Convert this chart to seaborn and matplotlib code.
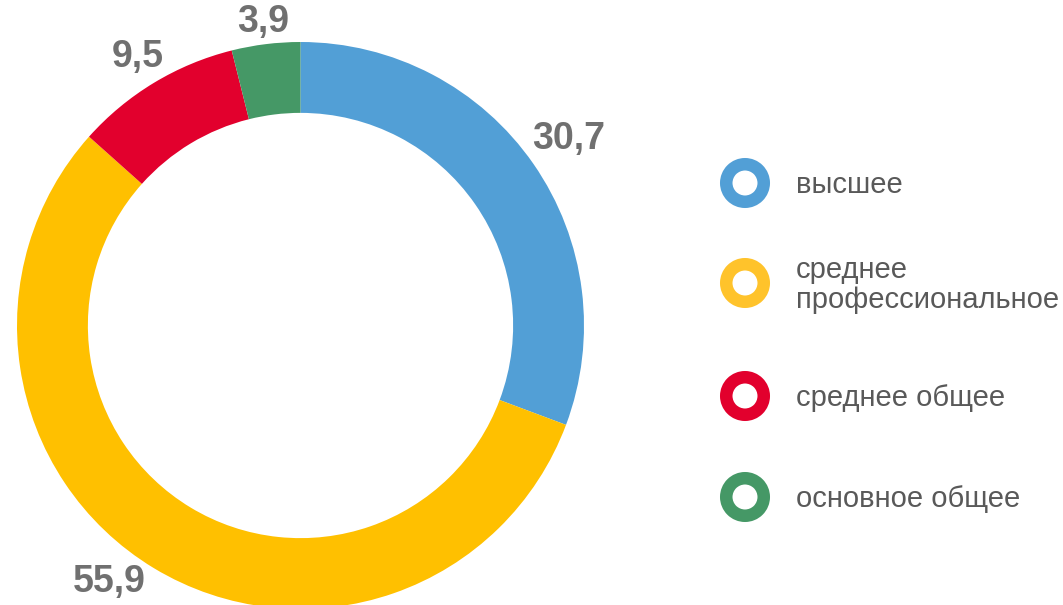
import numpy as np
import matplotlib.pyplot as plt
import seaborn as sns

# data
categories = ['высшее', 'среднее\nпрофессиональное', 'среднее общее', 'основное общее']
values = [30.7, 55.9, 9.5, 3.9]
value_labels = ['30,7', '55,9', '9,5', '3,9']
colors = ['#529FD6', '#FFC000', '#E2002D', '#459866']
legend_colors = ['#529FD6', '#FFC32B', '#E2002D', '#459866']

sns.set_theme(style='white')
plt.rcParams['font.family'] = ['Liberation Sans', 'DejaVu Sans']

W, H = 1063, 605
fig = plt.figure(figsize=(W / 100, H / 100), dpi=100)

# donut: centre and radius in pixels (from top-left)
cx, cy, R = 300.5, 325.5, 283.5
lim = 1.25
side = 2 * lim * R
ax = fig.add_axes([(cx - side / 2) / W, (H - cy - side / 2) / H, side / W, side / H])
wedges, _ = ax.pie(values, colors=colors, startangle=90, counterclock=False,
                   wedgeprops=dict(width=0.25, edgecolor='none', linewidth=0))
ax.set_xlim(-lim, lim)
ax.set_ylim(-lim, lim)
ax.set_aspect('equal')

# value labels outside the ring
texts = []
for w, lab in zip(wedges, value_labels):
    ang = np.deg2rad((w.theta1 + w.theta2) / 2)
    t = ax.text(np.cos(ang), np.sin(ang), lab, ha='center', va='center',
                fontsize=27, fontweight='bold', color='#707070')
    texts.append((t, ang))

fig.canvas.draw()
rend = fig.canvas.get_renderer()
for t, ang in texts:
    bb = t.get_window_extent(rend)
    hw = bb.width / 2 / R
    hh = 27 * 100 / 72 * 0.72 / 2 / R  # half of digit height
    rad = 1.02 + hw * abs(np.cos(ang)) + hh * abs(np.sin(ang))
    x, y = rad * np.cos(ang), rad * np.sin(ang)
    ymin = -(H - cy - 10) / R + hh  # keep label inside the figure
    if y < ymin:
        y = ymin
        x = np.sign(x) * np.sqrt(max(rad ** 2 - y ** 2, 0))
    t.set_position((x, y))

# legend with ring markers
legend_x, text_x = 745, 796
legend_y = [183, 283, 396, 497]
lax = fig.add_axes([0, 0, 1, 1])
lax.set_xlim(0, W)
lax.set_ylim(H, 0)
lax.axis('off')
lax.scatter([legend_x] * len(legend_y), legend_y, s=27 ** 2, facecolors='white',
            edgecolors=legend_colors, linewidths=9)
for y, c in zip(legend_y, categories):
    lax.text(text_x, y + 2, c, ha='left', va='center', fontsize=21,
             color='#595959', linespacing=1.05)

fig.savefig('out.png', dpi=100)
